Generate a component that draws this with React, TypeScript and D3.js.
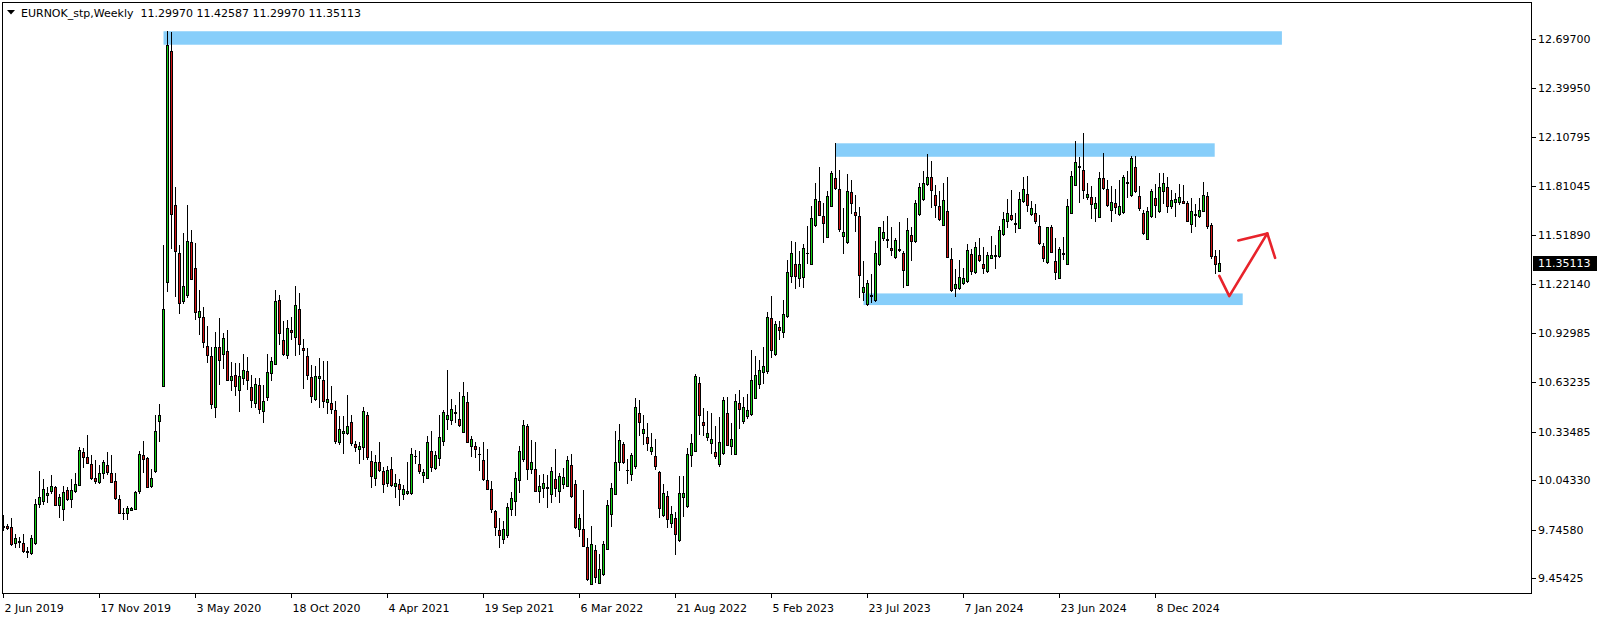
import { scaleLinear, line } from "d3";

// weekly EURNOK candles, first bar = 2 Jun 2019
const SYMBOL = "EURNOK_stp,Weekly";

const opens = [
  9.762, 9.766, 9.76, 9.662, 9.674, 9.664, 9.61, 9.606, 9.666, 9.899, 9.917, 9.951, 9.975, 9.999, 9.891, 9.867, 9.981, 9.929, 9.975, 10.011,
  10.212, 10.182, 10.14, 10.055, 10.033, 10.083, 10.131, 10.083, 10.035, 9.929, 9.847, 9.843, 9.865, 9.871, 9.979, 10.192, 10.174, 10.009, 10.097, 10.4,
  10.61, 11.232, 12.624, 11.696, 11.407, 11.122, 11.156, 11.475, 11.316, 11.022, 11.022, 10.847, 10.787, 10.48, 10.841, 10.799, 10.817, 10.643, 10.673, 10.588,
  10.655, 10.697, 10.606, 10.504, 10.618, 10.456, 10.54, 10.685, 10.739, 11.124, 10.883, 10.793, 10.943, 10.901, 11.07, 10.835, 10.787, 10.661, 10.528, 10.655,
  10.643, 10.51, 10.504, 10.462, 10.27, 10.324, 10.324, 10.39, 10.263, 10.231, 10.245, 10.432, 10.157, 10.057, 10.149, 10.095, 10.027, 10.107, 10.009, 10.017,
  9.96, 9.966, 9.966, 10.187, 10.137, 10.075, 10.057, 10.221, 10.117, 10.179, 10.281, 10.408, 10.402, 10.452, 10.408, 10.33, 10.51, 10.251, 10.251, 10.203,
  10.167, 10.045, 9.987, 9.86, 9.742, 9.686, 9.71, 9.872, 9.92, 10.041, 10.173, 10.366, 10.107, 10.107, 9.979, 9.997, 10.001, 9.961, 10.047, 9.979,
  10.021, 10.009, 10.131, 10.017, 9.75, 9.746, 9.638, 9.421, 9.62, 9.427, 9.481, 9.626, 9.842, 9.957, 10.149, 10.258, 10.105, 10.077, 10.125, 10.444,
  10.324, 10.3, 10.221, 10.191, 10.089, 9.834, 9.945, 9.786, 9.816, 9.684, 9.943, 9.89, 10.197, 10.221, 10.625, 10.39, 10.3, 10.264, 10.215, 10.137,
  10.209, 10.444, 10.251, 10.203, 10.504, 10.396, 10.426, 10.438, 10.538, 10.624, 10.691, 10.697, 11.016, 10.799, 10.967, 10.931, 11.028, 11.268, 11.346, 11.256,
  11.262, 11.411, 11.346, 11.575, 11.72, 11.629, 11.507, 11.69, 11.858, 11.792, 11.509, 11.473, 11.774, 11.653, 11.629, 11.172, 11.1, 11.154, 11.124, 11.34,
  11.497, 11.491, 11.437, 11.383, 11.433, 11.407, 11.214, 11.515, 11.479, 11.641, 11.732, 11.822, 11.864, 11.756, 11.69, 11.575, 11.66, 11.371, 11.196, 11.196,
  11.226, 11.238, 11.401, 11.292, 11.395, 11.346, 11.298, 11.377, 11.395, 11.389, 11.521, 11.599, 11.635, 11.589, 11.557, 11.72, 11.762, 11.641, 11.647, 11.569,
  11.449, 11.353, 11.563, 11.364, 11.256, 11.407, 11.346, 11.647, 11.816, 11.93, 11.906, 11.744, 11.744, 11.677, 11.623, 11.858, 11.792, 11.665, 11.707, 11.641,
  11.653, 11.836, 11.756, 11.924, 11.75, 11.647, 11.491, 11.629, 11.738, 11.659, 11.78, 11.804, 11.689, 11.714, 11.714, 11.72, 11.707, 11.581, 11.643, 11.629,
  11.659, 11.75, 11.575, 11.389, 11.2997,
];

const highs = [
  9.833, 9.778, 9.814, 9.716, 9.702, 9.718, 9.642, 9.712, 9.929, 10.099, 10.049, 10.003, 10.073, 10.007, 9.961, 10.007, 9.999, 10.047, 10.083, 10.244,
  10.234, 10.314, 10.194, 10.164, 10.133, 10.164, 10.214, 10.192, 10.083, 9.953, 9.877, 9.887, 9.879, 9.979, 10.218, 10.276, 10.184, 10.107, 10.434, 10.501,
  11.457, 12.745, 12.739, 11.806, 11.457, 11.527, 11.698, 11.547, 11.467, 11.186, 11.082, 10.969, 10.841, 10.933, 11.018, 10.929, 10.949, 10.751, 10.745, 10.745,
  10.799, 10.781, 10.673, 10.655, 10.655, 10.618, 10.799, 10.781, 11.186, 11.154, 11.0, 11.006, 11.022, 11.208, 11.166, 10.889, 10.835, 10.733, 10.727, 10.775,
  10.757, 10.757, 10.612, 10.518, 10.426, 10.426, 10.554, 10.432, 10.277, 10.275, 10.482, 10.45, 10.217, 10.193, 10.271, 10.123, 10.129, 10.185, 10.081, 10.047,
  10.015, 10.155, 10.239, 10.227, 10.221, 10.107, 10.311, 10.336, 10.221, 10.434, 10.464, 10.703, 10.528, 10.492, 10.572, 10.631, 10.572, 10.306, 10.275, 10.243,
  10.275, 10.231, 10.035, 9.866, 9.818, 9.798, 9.904, 9.97, 10.093, 10.251, 10.402, 10.378, 10.284, 10.272, 10.071, 10.077, 10.071, 10.119, 10.229, 10.083,
  10.113, 10.191, 10.203, 10.041, 9.84, 9.983, 9.692, 9.766, 9.65, 9.601, 9.674, 9.923, 10.023, 10.338, 10.38, 10.27, 10.173, 10.209, 10.534, 10.522,
  10.432, 10.384, 10.324, 10.288, 10.095, 10.017, 9.975, 9.89, 9.854, 10.065, 10.065, 10.239, 10.318, 10.681, 10.661, 10.474, 10.456, 10.444, 10.366, 10.42,
  10.54, 10.544, 10.384, 10.564, 10.584, 10.544, 10.564, 10.825, 10.789, 10.765, 10.843, 11.052, 11.15, 11.001, 11.003, 11.124, 11.367, 11.479, 11.473, 11.419,
  11.461, 11.569, 11.69, 11.828, 11.924, 11.708, 11.78, 11.9, 12.069, 11.906, 11.678, 11.882, 11.846, 11.756, 11.684, 11.359, 11.244, 11.28, 11.479, 11.567,
  11.603, 11.629, 11.563, 11.497, 11.595, 11.419, 11.617, 11.563, 11.726, 11.828, 11.9, 12.002, 11.96, 11.816, 11.78, 11.828, 11.864, 11.437, 11.31, 11.365,
  11.316, 11.461, 11.431, 11.473, 11.497, 11.443, 11.413, 11.509, 11.455, 11.569, 11.653, 11.732, 11.786, 11.647, 11.774, 11.864, 11.87, 11.72, 11.702, 11.635,
  11.467, 11.567, 11.575, 11.497, 11.443, 11.503, 11.732, 11.9, 12.081, 11.984, 12.129, 11.828, 11.81, 11.744, 11.894, 12.008, 11.846, 11.81, 11.792, 11.846,
  11.876, 11.9, 11.99, 11.99, 11.81, 11.665, 11.683, 11.792, 11.822, 11.888, 11.888, 11.864, 11.786, 11.768, 11.822, 11.816, 11.72, 11.738, 11.701, 11.738,
  11.834, 11.774, 11.587, 11.425, 11.42587,
];

const lows = [
  9.742, 9.75, 9.65, 9.642, 9.642, 9.61, 9.582, 9.596, 9.658, 9.883, 9.901, 9.909, 9.963, 9.891, 9.823, 9.806, 9.923, 9.883, 9.973, 10.011,
  10.119, 10.144, 10.051, 10.023, 10.023, 10.057, 10.079, 10.033, 9.927, 9.843, 9.812, 9.812, 9.863, 9.867, 9.967, 10.093, 9.999, 10.003, 10.093, 10.28,
  10.61, 11.182, 11.441, 11.15, 11.046, 11.11, 11.146, 11.25, 11.014, 10.919, 10.845, 10.755, 10.478, 10.424, 10.624, 10.715, 10.643, 10.588, 10.558, 10.46,
  10.624, 10.594, 10.48, 10.48, 10.444, 10.39, 10.524, 10.645, 10.739, 10.859, 10.793, 10.775, 10.889, 10.793, 10.799, 10.598, 10.649, 10.51, 10.522, 10.484,
  10.484, 10.444, 10.444, 10.268, 10.261, 10.207, 10.318, 10.255, 10.219, 10.147, 10.171, 10.171, 10.003, 10.013, 10.099, 9.971, 10.009, 10.009, 9.942, 9.894,
  9.93, 9.96, 9.96, 10.143, 10.087, 10.033, 10.057, 10.099, 10.111, 10.135, 10.255, 10.348, 10.378, 10.392, 10.366, 10.33, 10.27, 10.189, 10.183, 10.105,
  10.045, 9.991, 9.852, 9.714, 9.638, 9.662, 9.702, 9.834, 9.834, 9.969, 10.161, 10.051, 10.087, 9.975, 9.912, 9.943, 9.882, 9.912, 9.949, 9.912,
  9.997, 10.009, 9.943, 9.756, 9.708, 9.648, 9.441, 9.421, 9.433, 9.427, 9.475, 9.626, 9.768, 9.957, 10.105, 10.143, 10.023, 10.041, 10.113, 10.312,
  10.258, 10.223, 10.203, 10.107, 9.822, 9.828, 9.762, 9.762, 9.6, 9.678, 9.828, 9.884, 10.125, 10.221, 10.318, 10.312, 10.282, 10.209, 10.179, 10.125,
  10.203, 10.257, 10.203, 10.203, 10.354, 10.384, 10.414, 10.432, 10.534, 10.6, 10.63, 10.685, 10.781, 10.793, 10.889, 10.905, 11.022, 11.232, 11.196, 11.21,
  11.202, 11.351, 11.346, 11.569, 11.635, 11.473, 11.503, 11.69, 11.792, 11.539, 11.411, 11.467, 11.647, 11.539, 11.142, 11.124, 11.094, 11.112, 11.118, 11.338,
  11.487, 11.447, 11.399, 11.377, 11.419, 11.202, 11.214, 11.365, 11.473, 11.635, 11.726, 11.816, 11.684, 11.623, 11.605, 11.575, 11.383, 11.178, 11.148, 11.19,
  11.22, 11.232, 11.28, 11.286, 11.359, 11.286, 11.292, 11.377, 11.316, 11.383, 11.515, 11.563, 11.605, 11.533, 11.557, 11.714, 11.66, 11.635, 11.587, 11.461,
  11.359, 11.35, 11.413, 11.25, 11.256, 11.371, 11.346, 11.647, 11.816, 11.714, 11.738, 11.732, 11.617, 11.599, 11.623, 11.792, 11.689, 11.599, 11.647, 11.635,
  11.647, 11.744, 11.75, 11.774, 11.665, 11.521, 11.491, 11.623, 11.623, 11.653, 11.707, 11.653, 11.677, 11.629, 11.702, 11.707, 11.599, 11.533, 11.569, 11.623,
  11.659, 11.557, 11.377, 11.286, 11.2997,
];

const closes = [
  9.77, 9.758, 9.656, 9.692, 9.668, 9.616, 9.614, 9.692, 9.899, 9.939, 9.989, 9.963, 10.005, 9.891, 9.941, 9.971, 9.927, 9.983, 10.017, 10.224,
  10.184, 10.144, 10.053, 10.035, 10.083, 10.15, 10.089, 10.033, 9.933, 9.843, 9.847, 9.873, 9.875, 9.969, 10.2, 10.168, 10.003, 10.053, 10.338, 10.434,
  11.07, 12.661, 11.642, 11.419, 11.11, 11.21, 11.481, 11.25, 11.056, 11.058, 10.875, 10.793, 10.498, 10.841, 10.763, 10.895, 10.643, 10.667, 10.612, 10.667,
  10.703, 10.643, 10.522, 10.624, 10.468, 10.516, 10.691, 10.757, 11.118, 10.925, 10.799, 10.961, 10.931, 11.094, 10.859, 10.823, 10.673, 10.552, 10.667, 10.667,
  10.516, 10.528, 10.468, 10.28, 10.348, 10.336, 10.366, 10.268, 10.243, 10.251, 10.458, 10.183, 10.069, 10.149, 10.105, 10.021, 10.101, 10.015, 10.023, 9.991,
  9.987, 9.98, 10.203, 10.191, 10.095, 10.089, 10.275, 10.123, 10.197, 10.3, 10.452, 10.434, 10.468, 10.448, 10.372, 10.546, 10.27, 10.288, 10.233, 10.199,
  10.051, 9.991, 9.87, 9.762, 9.714, 9.746, 9.884, 9.938, 10.055, 10.221, 10.372, 10.107, 10.155, 9.979, 10.005, 10.023, 9.995, 10.095, 9.997, 10.065,
  10.059, 10.167, 9.949, 9.762, 9.818, 9.648, 9.447, 9.656, 9.463, 9.511, 9.656, 9.893, 9.993, 10.155, 10.282, 10.155, 10.101, 10.197, 10.48, 10.39,
  10.348, 10.264, 10.245, 10.125, 9.876, 9.963, 9.81, 9.842, 9.72, 9.963, 9.963, 10.203, 10.264, 10.667, 10.432, 10.372, 10.324, 10.288, 10.191, 10.27,
  10.522, 10.257, 10.293, 10.516, 10.468, 10.48, 10.462, 10.648, 10.673, 10.703, 10.727, 11.022, 10.827, 10.985, 10.949, 11.04, 11.292, 11.407, 11.268, 11.346,
  11.437, 11.407, 11.617, 11.732, 11.635, 11.587, 11.75, 11.888, 11.798, 11.551, 11.533, 11.78, 11.708, 11.635, 11.274, 11.202, 11.226, 11.15, 11.407, 11.563,
  11.533, 11.485, 11.425, 11.485, 11.429, 11.304, 11.545, 11.479, 11.708, 11.804, 11.828, 11.864, 11.786, 11.696, 11.611, 11.726, 11.383, 11.184, 11.22, 11.262,
  11.256, 11.425, 11.298, 11.443, 11.365, 11.316, 11.395, 11.395, 11.391, 11.545, 11.611, 11.647, 11.611, 11.585, 11.732, 11.792, 11.696, 11.678, 11.599, 11.467,
  11.377, 11.563, 11.413, 11.292, 11.431, 11.403, 11.689, 11.87, 11.954, 11.926, 11.786, 11.762, 11.702, 11.708, 11.858, 11.798, 11.695, 11.714, 11.683, 11.689,
  11.864, 11.832, 11.978, 11.78, 11.677, 11.527, 11.659, 11.78, 11.695, 11.804, 11.828, 11.689, 11.726, 11.732, 11.744, 11.707, 11.599, 11.659, 11.639, 11.665,
  11.756, 11.569, 11.389, 11.34, 11.35113,
];

// time axis: one label every 24 bars
const dateLabels = [
  "2 Jun 2019", "17 Nov 2019", "3 May 2020", "18 Oct 2020", "4 Apr 2021", "19 Sep 2021", "6 Mar 2022",
  "21 Aug 2022", "5 Feb 2023", "23 Jul 2023", "7 Jan 2024", "23 Jun 2024", "8 Dec 2024",
];
const DATE_STEP = 24;

const priceTicks = [
  "12.69700", "12.39950", "12.10795", "11.81045", "11.51890", "11.22140",
  "10.92985", "10.63235", "10.33485", "10.04330", "9.74580", "9.45425",
];

// drawn zones (bar index from/to, price top/bottom)
const zoneFrom = [40, 208, 215];
const zoneTo = [319.6, 302.8, 309.8];
const zoneTop = [12.743, 12.069, 11.166];
const zoneBottom = [12.662, 11.988, 11.096];

// hand drawn arrow
const arrowBars = [303.95, 306.45, 315.95];
const arrowPrices = [11.272, 11.15, 11.527];
const headBars = [308.7, 315.95, 317.9];
const headPrices = [11.485, 11.527, 11.38];

const W = 1604;
const H = 621;
const PLOT = { left: 2.5, top: 2.5, right: 1531.5, bottom: 593.5 };
const BULL = "#12cf12";
const BEAR = "#d21414";
const ZONE = "#87cefa";
const FONT = "'DejaVu Sans', Tahoma, sans-serif";

export default function App() {
  const x = scaleLinear().domain([0, 1]).range([3.5, 7.5]);
  const y = scaleLinear().domain([9.45425, 12.697]).range([578, 38.9]);

  const last = closes.length - 1;
  const header = `${SYMBOL}  ${opens[last].toFixed(5)} ${highs[last].toFixed(5)} ${lows[last].toFixed(5)} ${closes[last].toFixed(5)}`;

  const path = line<number>()
    .x((i) => x(arrowBars[i]))
    .y((i) => y(arrowPrices[i]));
  const headPath = line<number>()
    .x((i) => x(headBars[i]))
    .y((i) => y(headPrices[i]));

  const lastY = Math.round(y(closes[last]));

  return (
    <div style={{ position: "absolute", left: 0, top: 0, width: W, height: H, background: "#fff" }}>
      <svg width={W} height={H} style={{ display: "block", fontFamily: FONT }}>
        <rect width={W} height={H} fill="#fff" />

        <defs>
          <clipPath id="plot">
            <rect x={PLOT.left} y={PLOT.top} width={PLOT.right - PLOT.left} height={PLOT.bottom - PLOT.top} />
          </clipPath>
        </defs>

        <g clipPath="url(#plot)">
          {/* zones sit behind the bars */}
          {zoneFrom.map((f, i) => (
            <rect
              key={i}
              x={x(f)}
              y={y(zoneTop[i])}
              width={x(zoneTo[i]) - x(f)}
              height={y(zoneBottom[i]) - y(zoneTop[i])}
              fill={ZONE}
            />
          ))}

          {/* candles */}
          <g shapeRendering="crispEdges">
            {opens.map((o, i) => {
              const c = closes[i];
              const cx = x(i);
              const top = Math.round(y(Math.max(o, c)));
              const bot = Math.round(y(Math.min(o, c)));
              const hi = Math.round(y(highs[i]));
              const lo = Math.round(y(lows[i]));
              return (
                <g key={i}>
                  <line x1={cx} x2={cx} y1={hi} y2={lo + 1} stroke="#000" strokeWidth={1} />
                  {bot - top < 1 ? (
                    <line x1={cx - 1.5} x2={cx + 1.5} y1={top + 0.5} y2={top + 0.5} stroke="#000" strokeWidth={1} />
                  ) : (
                    <rect
                      x={cx - 1}
                      y={top + 0.5}
                      width={2}
                      height={bot - top}
                      fill={c >= o ? BULL : BEAR}
                      stroke="#000"
                      strokeWidth={1}
                    />
                  )}
                </g>
              );
            })}
          </g>

          {/* arrow */}
          <g fill="none" stroke="#e8232b" strokeWidth={2.6} strokeLinecap="round" strokeLinejoin="round">
            <path d={path([0, 1, 2]) ?? ""} />
            <path d={headPath([0, 1, 2]) ?? ""} />
          </g>
        </g>

        {/* frame */}
        <rect
          x={PLOT.left}
          y={PLOT.top}
          width={PLOT.right - PLOT.left}
          height={PLOT.bottom - PLOT.top}
          fill="none"
          stroke="#000"
          strokeWidth={1}
          shapeRendering="crispEdges"
        />

        {/* header */}
        <polygon points="7,10 15,10 11,14.5" fill="#000" />
        <text x={21} y={16.5} fontSize={11} fill="#000" style={{ whiteSpace: "pre" }}>
          {header}
        </text>

        {/* price axis */}
        {priceTicks.map((t) => {
          const ty = Math.round(y(+t)) + 0.5;
          return (
            <g key={t}>
              <line x1={PLOT.right} x2={PLOT.right + 4} y1={ty} y2={ty} stroke="#000" shapeRendering="crispEdges" />
              <text x={1538} y={ty} dy="0.36em" fontSize={11} fill="#000">
                {t}
              </text>
            </g>
          );
        })}

        {/* last price marker */}
        <rect x={1533} y={lastY - 7} width={64} height={15} fill="#000" />
        <text x={1538} y={lastY + 0.5} dy="0.36em" fontSize={11} fill="#fff">
          {closes[last].toFixed(5)}
        </text>

        {/* time axis */}
        {dateLabels.map((d, i) => {
          const tx = x(i * DATE_STEP);
          return (
            <g key={d}>
              <line x1={tx} x2={tx} y1={PLOT.bottom} y2={PLOT.bottom + 4} stroke="#000" shapeRendering="crispEdges" />
              <text x={tx + 1} y={612} fontSize={11} fill="#000">
                {d}
              </text>
            </g>
          );
        })}
      </svg>
    </div>
  );
}
